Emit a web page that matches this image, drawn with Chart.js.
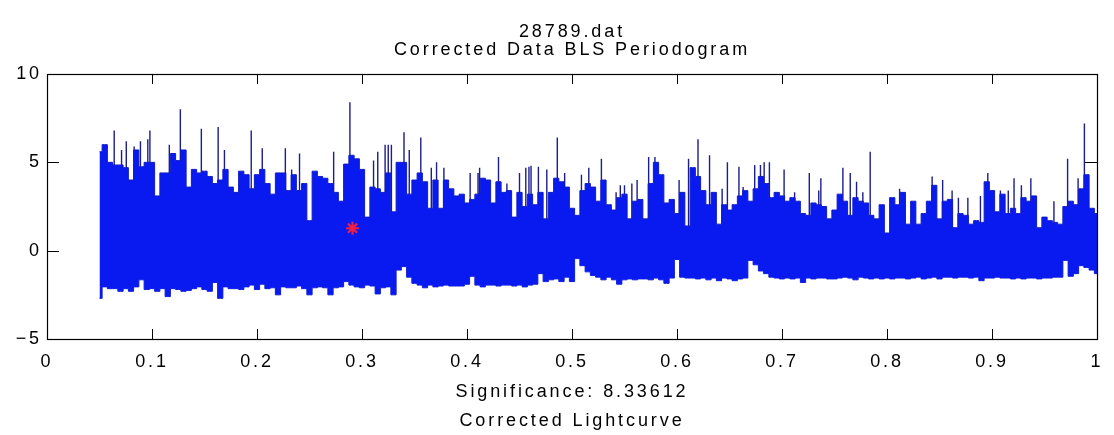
<!DOCTYPE html>
<html>
<head>
<meta charset="utf-8">
<title>28789.dat BLS Periodogram</title>
<script src="https://cdn.jsdelivr.net/npm/chart.js@4.4.1/dist/chart.umd.min.js"></script>
<style>
  html, body { margin: 0; padding: 0; background: #fff; }
  #periodogram { display: block; }
</style>
</head>
<body>
<canvas id="periodogram" width="1114" height="435"></canvas>
<script>
// Labels
const titleLines = ['28789.dat', 'Corrected Data BLS Periodogram'];
const xLabelLines = ['Significance: 8.33612', 'Corrected Lightcurve'];
const xTicks = [0, 0.1, 0.2, 0.3, 0.4, 0.5, 0.6, 0.7, 0.8, 0.9, 1];
const yTicks = [-5, 0, 5, 10];

// Frequency grid of the envelope samples
const freqStart = 0.05;
const freqStep = 0.005;

// Upper edge of the BLS power band, one value per grid step
const upperPower = [
  5.6, 6.0, 5.0, 4.85, 4.85, 4.7, 4.0, 5.7, 4.75, 5.0,
  5.0, 3.1, 4.4, 4.4, 5.5, 5.1, 5.7, 3.6, 4.6, 4.4,
  4.5, 4.2, 3.8, 4.0, 4.6, 3.6, 3.3, 4.5, 4.3, 3.5,
  4.3, 4.6, 3.8, 3.2, 4.4, 4.4, 3.4, 4.3, 3.4, 3.8,
  1.7, 4.5, 4.2, 4.1, 3.8, 3.3, 2.8, 4.9, 5.4, 5.2,
  4.6, 1.9, 3.6, 3.5, 3.3, 4.4, 2.2, 5.0, 5.0, 3.2,
  4.0, 4.4, 3.9, 2.4, 4.0, 2.4, 4.0, 3.5, 3.1, 3.2,
  2.7, 2.9, 3.2, 4.1, 4.0, 2.7, 3.9, 3.3, 3.4, 1.9,
  3.3, 2.5, 3.2, 2.6, 3.3, 1.8, 3.3, 4.1, 3.9, 3.6,
  2.4, 2.0, 3.4, 3.8, 3.6, 2.8, 4.0, 2.6, 2.3, 3.0,
  3.2, 1.8, 2.8, 2.9, 1.8, 3.8, 5.0, 4.3, 2.7, 2.9,
  2.1, 3.3, 1.4, 4.7, 4.2, 3.4, 2.6, 3.3, 1.5, 2.6,
  2.3, 2.6, 3.1, 3.4, 2.8, 3.5, 4.2, 3.8, 3.0, 3.3,
  3.1, 2.8, 3.0, 2.8, 2.1, 2.0, 2.7, 2.6, 2.5, 1.8,
  2.3, 3.2, 2.8, 2.0, 3.0, 2.8, 2.7, 2.0, 1.8, 2.6,
  1.0, 3.0, 2.6, 3.3, 1.5, 2.8, 1.5, 2.1, 2.8, 3.7,
  1.8, 2.8, 2.9, 1.3, 2.1, 2.0, 1.5, 1.7, 1.6, 3.9,
  3.4, 2.2, 3.2, 2.1, 2.4, 2.1, 3.0, 2.8, 3.1, 1.3,
  1.9, 1.7, 1.6, 1.5, 2.5, 2.8, 2.6, 3.5, 4.3, 2.4,
  2.1
];

// Lower edge of the band on the same grid
const lowerPower = [
  -2.7, -2.05, -2.15, -2.15, -2.3, -2.15, -2.3, -2.05, -1.65, -2.2,
  -2.15, -2.3, -2.15, -2.6, -2.15, -2.2, -2.3, -2.25, -2.15, -2.05,
  -2.2, -2.3, -1.8, -2.7, -2.05, -2.15, -2.15, -2.2, -2.05, -1.95,
  -2.2, -1.9, -2.15, -2.1, -2.5, -2.05, -2.1, -2.1, -2.0, -2.15,
  -2.5, -2.1, -2.05, -2.1, -2.5, -2.1, -2.05, -1.75, -1.95, -2.05,
  -2.1, -1.95, -2.0, -2.45, -2.1, -2.05, -2.5, -1.1, -0.9, -1.5,
  -1.85, -1.95, -2.1, -1.95, -2.05, -2.0, -1.95, -2.0, -2.0, -2.0,
  -1.9, -1.45, -1.95, -2.05, -1.95, -1.95, -2.0, -1.95, -1.95, -2.0,
  -1.95, -2.05, -1.95, -1.9, -1.3, -1.75, -1.65, -1.6, -1.75, -1.5,
  -1.75, -0.45, -0.85, -1.2, -1.4, -1.5, -1.65, -1.5, -1.65, -1.9,
  -1.65, -1.6, -1.65, -1.6, -1.6, -1.65, -1.55, -1.65, -1.85, -1.55,
  -0.5, -1.5, -1.55, -1.55, -1.6, -1.55, -1.65, -1.55, -1.7, -1.55,
  -1.6, -1.7, -1.6, -1.55, -0.55, -0.8, -1.15, -1.3, -1.5, -1.55,
  -1.6, -1.55, -1.6, -1.55, -1.8, -1.55, -1.6, -1.55, -1.55, -1.6,
  -1.6, -1.55, -1.5, -1.55, -1.65, -1.5, -1.55, -1.6, -1.55, -1.6,
  -1.55, -1.6, -1.55, -1.55, -1.6, -1.55, -1.5, -1.6, -1.55, -1.5,
  -1.6, -1.5, -1.5, -1.55, -1.5, -1.5, -1.55, -1.5, -1.7, -1.55,
  -1.55, -1.5, -1.55, -1.55, -1.6, -1.55, -1.6, -1.55, -1.55, -1.6,
  -1.55, -1.55, -1.5, -1.5, -0.55, -1.45, -1.3, -0.85, -0.95, -1.1,
  -1.3
];

// Narrow peaks standing above the band
const spikeFreq = [
  0.064, 0.071, 0.0755, 0.083, 0.089, 0.096, 0.098, 0.1165, 0.127, 0.147,
  0.163, 0.169, 0.1945, 0.205, 0.227, 0.233, 0.2405, 0.273, 0.2885, 0.311,
  0.315, 0.322, 0.325, 0.328, 0.340, 0.345, 0.356, 0.366, 0.371, 0.378,
  0.403, 0.4105, 0.412, 0.430, 0.438, 0.450, 0.456, 0.459, 0.461, 0.468,
  0.476, 0.486, 0.493, 0.509, 0.516, 0.528, 0.542, 0.546, 0.550, 0.557,
  0.562, 0.573, 0.579, 0.602, 0.611, 0.620, 0.631, 0.643, 0.648, 0.659,
  0.663, 0.674, 0.6795, 0.683, 0.688, 0.702, 0.712, 0.726, 0.735, 0.737,
  0.758, 0.765, 0.771, 0.777, 0.784, 0.812, 0.817, 0.843, 0.853, 0.862,
  0.868, 0.877, 0.889, 0.896, 0.908, 0.9155, 0.921, 0.928, 0.937, 0.959,
  0.972, 0.982, 0.988
];
const spikePower = [
  6.8, 5.7, 6.2, 5.9, 6.2, 6.3, 6.8, 6.0, 8.0, 6.9,
  7.0, 5.7, 6.8, 5.8, 5.8, 4.6, 5.5, 5.6, 8.4, 5.1,
  5.6, 6.0, 6.0, 6.0, 6.7, 5.7, 6.4, 4.7, 5.0, 4.7,
  4.4, 4.4, 4.7, 5.3, 3.8, 4.4, 4.7, 4.75, 4.8, 4.75,
  4.6, 6.4, 4.4, 4.3, 4.7, 5.2, 3.3, 3.7, 3.7, 3.8,
  4.0, 5.3, 5.3, 4.0, 5.2, 6.3, 5.4, 3.5, 5.0, 4.75,
  3.6, 4.85, 4.85, 5.0, 5.0, 4.6, 3.3, 4.4, 3.4, 4.1,
  4.7, 4.4, 3.9, 3.3, 5.6, 3.5, 3.3, 4.2, 4.0, 3.4,
  3.0, 3.0, 3.1, 4.4, 3.4, 3.4, 4.1, 3.7, 4.1, 2.8,
  5.2, 4.1, 7.2
];

// Selected period
const bestFreq = [0.291];
const bestPower = [1.27];

const BAND_BLUE = 'rgb(8, 26, 240)';
const EDGE_BLUE = 'rgb(16, 28, 200)';
const PEAK_NAVY = 'rgb(28, 30, 140)';
const FONT = '"Liberation Sans", Arial, Helvetica, sans-serif';
const TEXT_SPACING = '2.9px';

const gridFreq = upperPower.map((_, i) => +(freqStart + i * freqStep).toFixed(4));
const upperPts = gridFreq.map((f, i) => ({ x: f, y: upperPower[i] }));
const lowerPts = gridFreq.map((f, i) => ({ x: f, y: lowerPower[i] }));

// each peak is a vertical stroke, separated from the next by a gap
const spikePts = [];
spikeFreq.forEach((f, i) => {
  spikePts.push({ x: f, y: 0 }, { x: f, y: spikePower[i] }, { x: f, y: null });
});

const markerPts = bestFreq.map((f, i) => ({ x: f, y: bestPower[i] }));

// MATLAB style box: inward ticks on every side, titles above and below
const matlabFrame = {
  id: 'matlabFrame',
  beforeDraw(chart) {
    chart.ctx.letterSpacing = TEXT_SPACING;
  },
  beforeDatasetsDraw(chart) {
    const { ctx, chartArea: a, scales: { x, y } } = chart;
    ctx.save();
    ctx.strokeStyle = '#000';
    ctx.lineWidth = 1;
    ctx.beginPath();
    xTicks.forEach(v => {
      const px = Math.round(x.getPixelForValue(v)) + 0.5;
      ctx.moveTo(px, a.bottom); ctx.lineTo(px, a.bottom - 10);
      ctx.moveTo(px, a.top); ctx.lineTo(px, a.top + 10);
    });
    yTicks.forEach(v => {
      const py = Math.round(y.getPixelForValue(v)) + 0.5;
      ctx.moveTo(a.left, py); ctx.lineTo(a.left + 12, py);
      ctx.moveTo(a.right, py); ctx.lineTo(a.right - 12, py);
    });
    ctx.stroke();
    ctx.restore();
  },
  afterDatasetsDraw(chart) {
    const { ctx, chartArea: a } = chart;
    ctx.save();
    ctx.strokeStyle = '#000';
    ctx.lineWidth = 1.2;
    ctx.strokeRect(Math.round(a.left) + 0.5, Math.round(a.top) + 0.5,
      Math.round(a.right - a.left), Math.round(a.bottom - a.top));
    ctx.restore();
  },
  afterDraw(chart) {
    const { ctx, chartArea: a } = chart;
    ctx.save();
    ctx.letterSpacing = TEXT_SPACING;
    ctx.fillStyle = '#000';
    ctx.font = '18px ' + FONT;
    ctx.textAlign = 'center';
    ctx.textBaseline = 'alphabetic';
    const cx = (a.left + a.right) / 2;
    titleLines.forEach((t, i) => ctx.fillText(t, cx, 37 + i * 18));
    xLabelLines.forEach((t, i) => ctx.fillText(t, cx, a.bottom + 58 + i * 29));
    ctx.restore();
  }
};

new Chart(document.getElementById('periodogram'), {
  type: 'line',
  data: {
    datasets: [
      {
        label: 'upper',
        data: upperPts,
        stepped: 'middle',
        fill: '+1',
        backgroundColor: BAND_BLUE,
        borderColor: EDGE_BLUE,
        borderWidth: 1,
        pointRadius: 0
      },
      {
        label: 'lower',
        data: lowerPts,
        stepped: 'middle',
        fill: false,
        borderColor: EDGE_BLUE,
        borderWidth: 1,
        pointRadius: 0
      },
      {
        label: 'peaks',
        data: spikePts,
        fill: false,
        spanGaps: false,
        borderColor: PEAK_NAVY,
        borderWidth: 1.4,
        pointRadius: 0
      },
      {
        label: 'best',
        data: markerPts,
        order: -1,
        showLine: false,
        pointStyle: 'star',
        pointRadius: 6.5,
        pointBorderWidth: 2.2,
        pointBorderColor: 'rgb(240, 30, 70)',
        pointBackgroundColor: 'rgb(240, 30, 70)'
      }
    ]
  },
  options: {
    responsive: false,
    animation: false,
    layout: { padding: { top: 74, right: 10, left: 0, bottom: 0 } },
    plugins: {
      legend: { display: false },
      tooltip: { enabled: false }
    },
    scales: {
      x: {
        type: 'linear',
        min: 0,
        max: 1,
        grid: { display: false, drawTicks: false },
        border: { display: false },
        afterBuildTicks: s => { s.ticks = xTicks.map(v => ({ value: v })); },
        afterFit: s => { s.height = 96; },
        ticks: {
          padding: 12,
          color: '#000',
          font: { family: FONT, size: 18 },
          maxRotation: 0,
          callback: v => String(v)
        }
      },
      y: {
        min: -5,
        max: 10,
        grid: { display: false, drawTicks: false },
        border: { display: false },
        afterBuildTicks: s => { s.ticks = yTicks.map(v => ({ value: v })); },
        afterFit: s => { s.width = 47; },
        ticks: {
          padding: 5,
          color: '#000',
          font: { family: FONT, size: 18 },
          callback: v => String(v).replace('-', '\u2212')
        }
      }
    }
  },
  plugins: [matlabFrame]
});
</script>
</body>
</html>
